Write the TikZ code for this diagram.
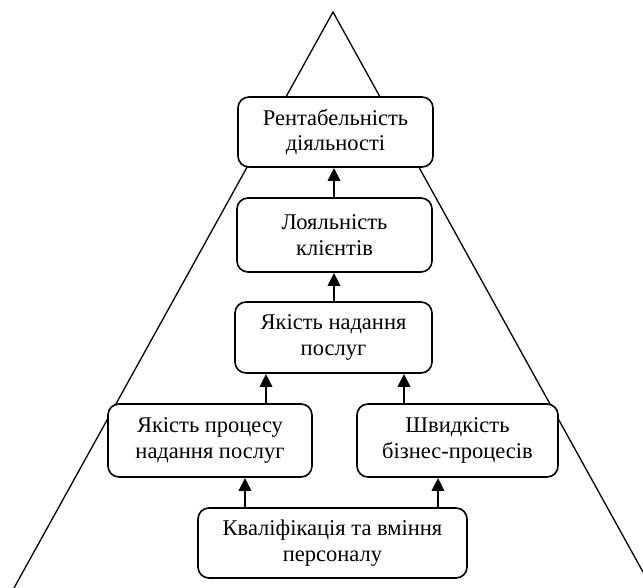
\documentclass[tikz,border=0pt]{standalone}
\usepackage{fontspec}
\setmainfont{Liberation Serif}
\usetikzlibrary{arrows.meta}
\begin{document}
\begin{tikzpicture}[x=1pt,y=-1pt,
  box/.style={draw,line width=1.6pt,rounded corners=11pt,fill=white,align=center,
    font=\fontsize{22.5}{25.5}\selectfont,inner sep=0pt},
  up/.style={line width=2.8pt,-{Triangle[width=12pt,length=13pt]}}]
\useasboundingbox (0,0) rectangle (643,588);
\coordinate (apex) at (333,12);
\coordinate (bl) at (14,588);
\coordinate (br) at (643,572);
\draw[line width=1.3pt] (bl) -- (apex) -- (br);
\node[box,minimum width=195pt,minimum height=70pt] (b1) at (335.5,132) {Рентабельність\\діяльності};
\node[box,minimum width=195pt,minimum height=74pt] (b2) at (334.5,235) {Лояльність\\клієнтів};
\node[box,minimum width=197pt,minimum height=71pt] (b3) at (333.5,337.5) {Якість надання\\послуг};
\node[box,minimum width=204pt,minimum height=73pt] (b4) at (210,440.5) {Якість процесу\\надання послуг};
\node[box,minimum width=201pt,minimum height=73pt] (b5) at (457.5,440.5) {Швидкість\\бізнес-процесів};
\node[box,minimum width=269pt,minimum height=70pt] (b6) at (332.5,543) {Кваліфікація та вміння\\персоналу};
\draw[up] (b2.north -| 334,0) -- (b1.south -| 334,0);
\draw[up] (b3.north -| 334,0) -- (b2.south -| 334,0);
\draw[up] (b4.north -| 266,0) -- (b3.south -| 266,0);
\draw[up] (b5.north -| 404,0) -- (b3.south -| 404,0);
\draw[up] (b6.north -| 245,0) -- (b4.south -| 245,0);
\draw[up] (b6.north -| 438,0) -- (b5.south -| 438,0);
\end{tikzpicture}
\end{document}
